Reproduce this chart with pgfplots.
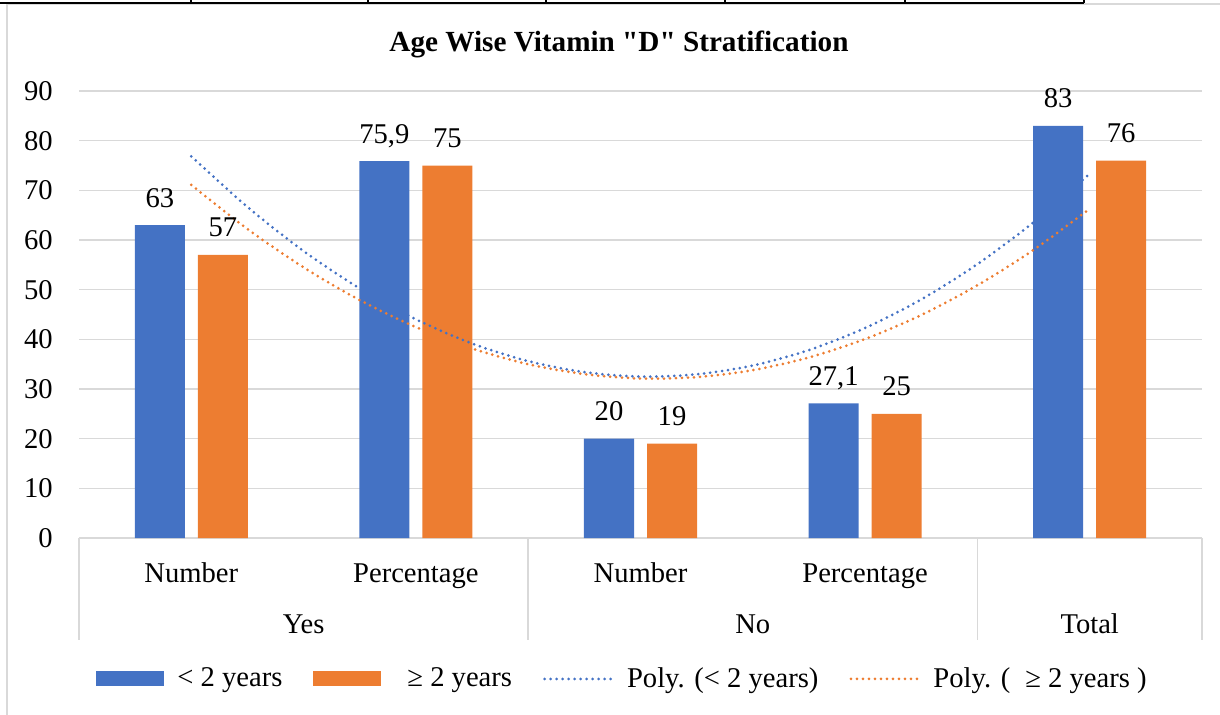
\documentclass[border=0pt]{standalone}
\usepackage{fontspec}
\setmainfont{Liberation Serif}
\newfontfamily\titlefont{Liberation Serif}
\usepackage{pgfplots}
\pgfplotsset{compat=1.18}
\definecolor{blueC}{HTML}{4472C4}
\definecolor{orangeC}{HTML}{ED7D31}
\definecolor{gridgray}{HTML}{D9D9D9}
\newcommand{\lf}{\fontsize{14.3bp}{16bp}\selectfont}
\begin{document}
\begin{tikzpicture}
\path[use as bounding box] (0,0) rectangle (610bp,357.5bp);
% page decorations
\draw[gridgray, line width=1bp] (3.5bp,0) -- (3.5bp,355.3bp) -- (610bp,355.3bp);
\draw[black, line width=1.2bp] (0,356.1bp) -- (542bp,356.1bp);
\foreach \xx in {95.5,184,273,362.5,452.5,542}{
  \draw[black, line width=1bp] (\xx bp,356bp) -- (\xx bp,357.5bp);
}
\node[font=\titlefont\bfseries\fontsize{14.6bp}{17bp}\selectfont, anchor=center] at (309.5bp,335.5bp) {Age Wise Vitamin "D" Stratification};
\begin{axis}[
  at={(39.5bp,88.5bp)}, anchor=south west,
  scale only axis, width=561.5bp, height=223.5bp,
  xmin=0.5, xmax=5.5, ymin=0, ymax=90,
  ytick={0,10,...,90},
  xtick={1,2,3,4},
  xticklabels={Number,Percentage,Number,Percentage},
  ymajorgrids, grid style={draw=gridgray, line width=0.8bp},
  axis line style={draw=none},
  major tick length=0pt,
  clip=false,
  /pgf/number format/assume math mode=true,
  tick label style={font=\lf},
  yticklabel style={anchor=east, inner sep=0pt, xshift=-13bp},
  xticklabel style={anchor=base, inner sep=0pt, yshift=-22bp},
  legend style={at={(0.4853,-0.3154)}, anchor=center, draw=none, fill=none,
    legend columns=4, font=\lf,
    /tikz/every even column/.append style={column sep=13bp},
    /tikz/every odd column/.append style={column sep=4bp},
    nodes={inner sep=2.5bp}},
  legend cell align=left,
]
\addplot[ybar, bar width=25bp, bar shift=-15.75bp, fill=blueC, draw=none,
  nodes near coords, point meta=explicit symbolic,
  every node near coord/.style={font=\lf, anchor=base, inner sep=0pt, yshift=9bp, xshift=-15.75bp, text=black},
  legend image code/.code={\fill[blueC] (0bp,-3.75bp) rectangle (34bp,3.75bp);}]
  coordinates {(1,63)[63] (2,75.9)[75,9] (3,20)[20] (4,27.1)[27,1] (5,83)[83]};
\addlegendentry{< 2 years}
\addplot[ybar, bar width=25bp, bar shift=15.75bp, fill=orangeC, draw=none,
  nodes near coords, point meta=explicit symbolic,
  every node near coord/.style={font=\lf, anchor=base, inner sep=0pt, yshift=9bp, xshift=15.75bp, text=black},
  legend image code/.code={\fill[orangeC] (0bp,-3.75bp) rectangle (34bp,3.75bp);}]
  coordinates {(1,57)[57] (2,75)[75] (3,19)[19] (4,25)[25] (5,76)[76]};
\addlegendentry{\hspace{6.5bp}≥ 2 years}
\addplot[blueC, smooth, line width=1.5bp, line cap=round, dash pattern=on 0pt off 3bp,
  legend image code/.code={\draw[blueC, line width=1.5bp, line cap=round, dash pattern=on 0pt off 3bp] (0bp,0bp) -- (34bp,0bp);}]
  coordinates {(1,76.85) (1.25,66.65) (1.5,57.78) (1.75,50.24) (2,44.04) (2.25,39.16) (2.5,35.61) (2.75,33.40) (3,32.51) (3.25,32.96) (3.5,34.73) (3.75,37.84) (4,42.28) (4.25,48.04) (4.5,55.14) (4.75,63.57) (5,73.33)};
\addlegendentry{Poly. (< 2 years)}
\addplot[orangeC, smooth, line width=1.5bp, line cap=round, dash pattern=on 0pt off 3bp,
  legend image code/.code={\draw[orangeC, line width=1.5bp, line cap=round, dash pattern=on 0pt off 3bp] (0bp,0bp) -- (34bp,0bp);}]
  coordinates {(1,71.09) (1.25,62.21) (1.5,54.49) (1.75,47.90) (2,42.46) (2.25,38.16) (2.5,35.00) (2.75,32.99) (3,32.11) (3.25,32.39) (3.5,33.80) (3.75,36.36) (4,40.06) (4.25,44.90) (4.5,50.89) (4.75,58.01) (5,66.29)};
\addlegendentry{Poly. (\hspace{7.5bp}≥ 2 years )}
% category separators and group labels
\foreach \sx in {0.5,2.5,4.5,5.5}{
  \edef\tmp{\noexpand\draw[gridgray, line width=0.8bp] (axis cs:\sx,0) -- (axis cs:\sx,-20.54);}\tmp
}
\node[font=\lf, anchor=base] at (axis cs:1.5,-19.13) {Yes};
\node[font=\lf, anchor=base] at (axis cs:3.5,-19.13) {No};
\node[font=\lf, anchor=base] at (axis cs:5,-19.13) {Total};
\end{axis}
\end{tikzpicture}
\end{document}
